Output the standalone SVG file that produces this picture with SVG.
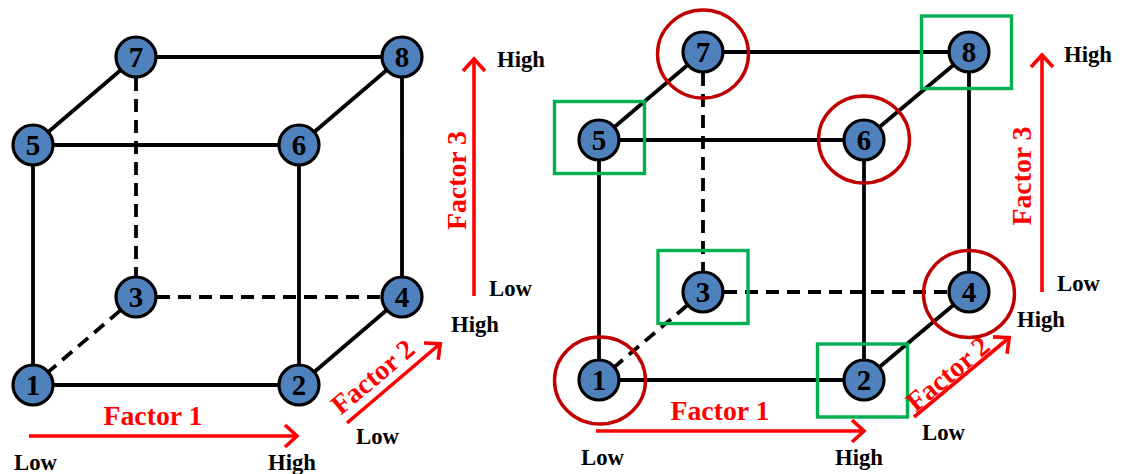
<svg xmlns="http://www.w3.org/2000/svg" width="1123" height="474" viewBox="0 0 1123 474">
<style>
text{font-family:"Liberation Serif","Times New Roman",serif;font-weight:bold}
.e{stroke:#000;stroke-width:3.8;fill:none}
.d{stroke:#000;stroke-width:3.8;fill:none;stroke-dasharray:13 8}
.a{stroke:#f00;stroke-width:3.6;fill:none;marker-end:url(#arr)}
.n circle{fill:#4f81bd;stroke:#000;stroke-width:3.2}
.n text{font-size:29px;fill:#000;text-anchor:middle}
.l{font-size:22.7px;fill:#000}
.f{font-size:27.8px;fill:#f00;text-anchor:middle}
.r{fill:none;stroke:#c00000;stroke-width:3.4}
.g{fill:none;stroke:#00b050;stroke-width:3.4}
</style>
<defs>
<marker id="arr" markerUnits="userSpaceOnUse" markerWidth="24" markerHeight="28" refX="16" refY="14" orient="auto">
<path d="M3 3 L15 14 L3 25" fill="none" stroke="#f00" stroke-width="3.6"/>
</marker>
</defs>
<g id="connectors">
<path class="e" d="M33 385H299M33 145H299M136 57H402M33 145V385M299 145V385M402 57V297M33 145L136 57M299 145L402 57M299 385L402 297"/>
<path class="d" d="M136 57V297M136 297H402M136 297L33 385"/>
<path class="e" d="M599 380H864M599 140H864M703 52H969M599 140V380M864 140V380M969 52V292M599 140L703 52M864 140L969 52M864 380L969 292"/>
<path class="d" d="M703 52V292M703 292H969M703 292L599 380"/>
</g>
<g id="arrows">
<path class="a" d="M29 436H298"/>
<path class="a" d="M347 423L441 343"/>
<path class="a" d="M474 296V58"/>
<path class="a" d="M596 431H865"/>
<path class="a" d="M914 417L1010 337"/>
<path class="a" d="M1042 292V54"/>
</g>
<g id="highlights">
<ellipse class="r" cx="600" cy="380.500" rx="45.500" ry="43.500"/>
<ellipse class="r" cx="703" cy="54" rx="45.500" ry="44"/>
<ellipse class="r" cx="864" cy="139.500" rx="45.500" ry="43.500"/>
<ellipse class="r" cx="969" cy="294" rx="45.500" ry="43.500"/>
<rect class="g" x="554.500" y="101.500" width="90" height="72"/>
<rect class="g" x="817.500" y="344" width="90" height="73"/>
<rect class="g" x="658" y="250.500" width="90" height="73"/>
<rect class="g" x="921.500" y="16" width="90" height="72.500"/>
</g>
<g id="a1" class="n"><circle cx="33" cy="385" r="20"/><text x="33" y="395">1</text></g>
<g id="a2" class="n"><circle cx="299" cy="385" r="20"/><text x="299" y="395">2</text></g>
<g id="a3" class="n"><circle cx="136" cy="297" r="20"/><text x="136" y="307">3</text></g>
<g id="a4" class="n"><circle cx="402" cy="297" r="20"/><text x="402" y="307">4</text></g>
<g id="a5" class="n"><circle cx="33" cy="145" r="20"/><text x="33" y="155">5</text></g>
<g id="a6" class="n"><circle cx="299" cy="145" r="20"/><text x="299" y="155">6</text></g>
<g id="a7" class="n"><circle cx="136" cy="57" r="20"/><text x="136" y="67">7</text></g>
<g id="a8" class="n"><circle cx="402" cy="57" r="20"/><text x="402" y="67">8</text></g>
<g id="b1" class="n"><circle cx="599" cy="380" r="20"/><text x="599" y="390">1</text></g>
<g id="b2" class="n"><circle cx="864" cy="380" r="20"/><text x="864" y="390">2</text></g>
<g id="b3" class="n"><circle cx="703" cy="292" r="20"/><text x="703" y="302">3</text></g>
<g id="b4" class="n"><circle cx="969" cy="292" r="20"/><text x="969" y="302">4</text></g>
<g id="b5" class="n"><circle cx="599" cy="140" r="20"/><text x="599" y="150">5</text></g>
<g id="b6" class="n"><circle cx="864" cy="140" r="20"/><text x="864" y="150">6</text></g>
<g id="b7" class="n"><circle cx="703" cy="52" r="20"/><text x="703" y="62">7</text></g>
<g id="b8" class="n"><circle cx="969" cy="52" r="20"/><text x="969" y="62">8</text></g>
<g id="labels">
<text class="f" x="153" y="425">Factor 1</text>
<text class="f" transform="translate(373 377) rotate(-40)" x="0" y="9">Factor 2</text>
<text class="f" transform="translate(466 180.500) rotate(-90)" x="0" y="0">Factor 3</text>
<text class="l" x="14" y="470">Low</text>
<text class="l" x="268" y="470">High</text>
<text class="l" x="356" y="444">Low</text>
<text class="l" x="451" y="332">High</text>
<text class="l" x="489" y="296">Low</text>
<text class="l" x="497" y="67">High</text>
<text class="f" x="720" y="420">Factor 1</text>
<text class="f" transform="translate(948 374) rotate(-40)" x="0" y="9">Factor 2</text>
<text class="f" transform="translate(1031 176) rotate(-90)" x="0" y="0">Factor 3</text>
<text class="l" x="581" y="465">Low</text>
<text class="l" x="835" y="465">High</text>
<text class="l" x="922" y="440">Low</text>
<text class="l" x="1017" y="327">High</text>
<text class="l" x="1057" y="291">Low</text>
<text class="l" x="1064" y="62">High</text>
</g>
</svg>
